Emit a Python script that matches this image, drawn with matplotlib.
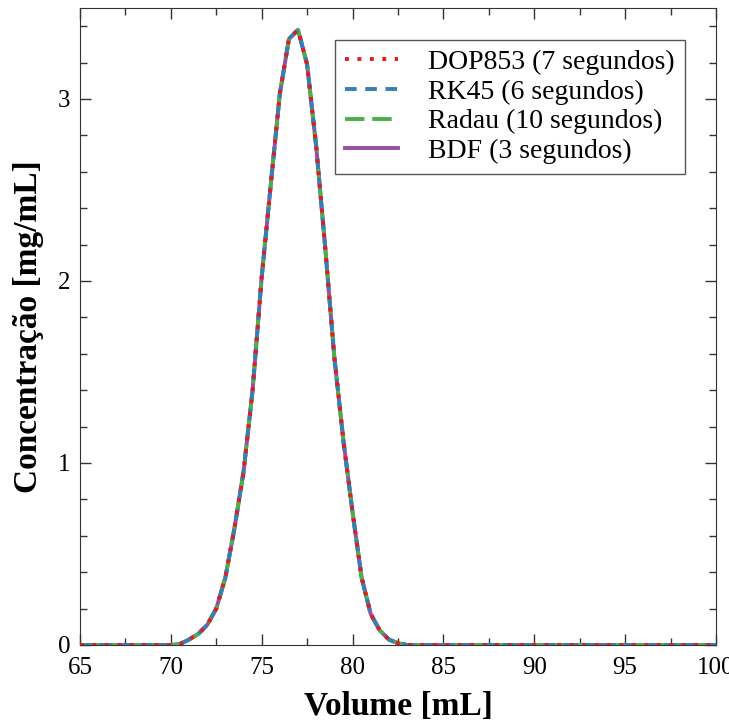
import numpy as np
import matplotlib.pyplot as plt
from matplotlib.ticker import MultipleLocator

# Volume (mL) e concentração (mg/mL)
volume = [65.0, 66.0, 67.0, 68.0, 69.0, 70.0, 70.5, 71.0, 71.5, 72.0, 72.5,
          73.0, 73.5, 74.0, 74.5, 75.0, 75.5, 76.0, 76.5, 77.0, 77.5, 78.0,
          78.5, 79.0, 79.5, 80.0, 80.5, 81.0, 81.5, 82.0, 82.5, 83.0, 85.0,
          90.0, 95.0, 100.0]
conc = [0.0, 0.0, 0.0, 0.0, 0.0, 0.0, 0.005, 0.03, 0.06, 0.11, 0.20,
        0.37, 0.64, 0.95, 1.40, 2.02, 2.53, 3.03, 3.33, 3.38, 3.19, 2.74,
        2.18, 1.58, 1.12, 0.73, 0.37, 0.17, 0.08, 0.03, 0.01, 0.0, 0.0,
        0.0, 0.0, 0.0]

metodos = ["DOP853 (7 segundos)", "RK45 (6 segundos)",
           "Radau (10 segundos)", "BDF (3 segundos)"]
cores = ["#e41a1c", "#377eb8", "#4daf4a", "#984ea3"]
estilos = [(0, (1, 2.2)), (0, (3, 2.2)), (0, (5, 2)), "-"]
ordem_z = [5, 4, 3, 2]

plt.rcParams['font.family'] = ['Liberation Serif', 'DejaVu Serif']

fig = plt.figure(figsize=(7.29, 7.27), dpi=100)
ax = fig.add_axes([0.1097, 0.1128, 0.8724, 0.8762])

for nome, cor, ls, z in zip(metodos, cores, estilos, ordem_z):
    ax.plot(volume, conc, color=cor, linestyle=ls, linewidth=2.8,
            label=nome, zorder=z)

ax.set_xlim(65, 100)
ax.set_ylim(0, 3.5)
ax.xaxis.set_major_locator(MultipleLocator(5))
ax.xaxis.set_minor_locator(MultipleLocator(2.5))
ax.yaxis.set_major_locator(MultipleLocator(1))
ax.yaxis.set_minor_locator(MultipleLocator(0.2))
ax.tick_params(which='both', direction='in', top=True, right=True,
               colors='#333333', labelcolor='black', labelsize=18)
ax.tick_params(which='major', length=8, width=1)
ax.tick_params(which='minor', length=5, width=1)
ax.tick_params(axis='x', which='major', pad=9)
ax.tick_params(axis='y', which='major', pad=7)
for s in ax.spines.values():
    s.set_color('#333333')

ax.set_xlabel('Volume [mL]', fontsize=24, fontweight='bold', labelpad=8)
ax.set_ylabel('Concentração [mg/mL]', fontsize=24, fontweight='bold', labelpad=10)

leg = ax.legend(loc='upper right', bbox_to_anchor=(0.951, 0.950),
                borderaxespad=0, fontsize=20, fancybox=False,
                edgecolor='#555555', framealpha=1, handlelength=1.9,
                handletextpad=1.1, labelspacing=0.15, borderpad=0.35)
leg.get_frame().set_linewidth(1.0)

fig.savefig('out.png', dpi=100)
